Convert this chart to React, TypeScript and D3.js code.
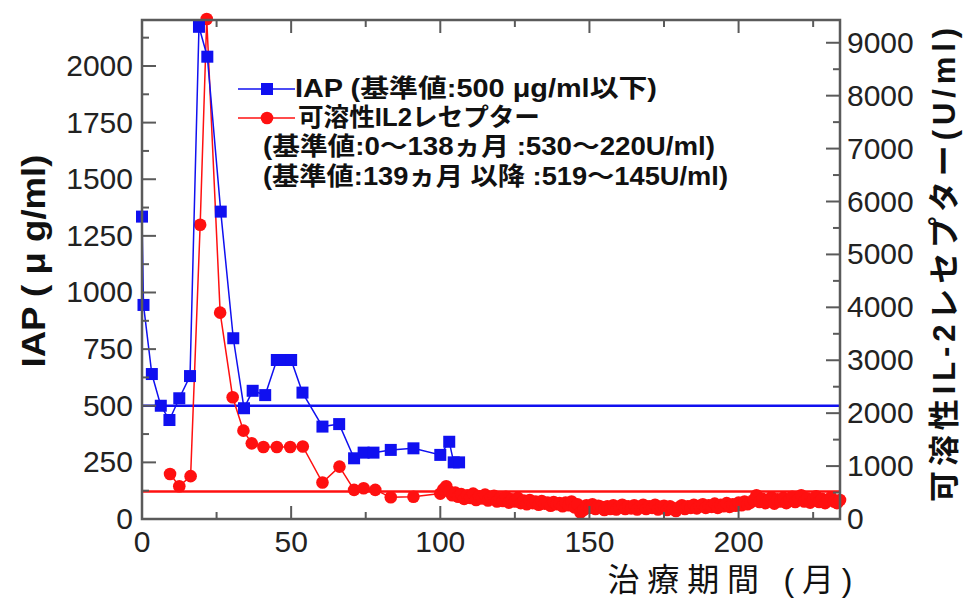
import React from "react";
import * as d3 from "d3";

// ---- data ----
const iapMonths = [0, 0.5, 3.3, 6.3, 9.2, 12.5, 16.1, 19.1, 21.9, 26.4, 30.6, 34.2, 37.1, 41.3, 45.2, 47.5, 50, 53.8, 60.5, 66.1, 71.1, 74.3, 77.6, 83.4, 91, 100, 103, 104.5, 106.3];
const iapValues = [1335, 945, 640, 500, 437, 533, 631, 2173, 2041, 1357, 798, 489, 566, 547, 702, 702, 702, 558, 408, 419, 268, 293, 293, 305, 312, 283, 341, 250, 250];

const sil2rEarlyMonths = [9.4, 12.5, 16.3, 19.5, 21.7, 26.2, 30.4, 34, 36.8, 40.7, 45.2, 49.7, 53.9, 60.5, 66.2, 71.1, 74.3, 78.2, 83.4, 91];
const sil2rEarlyValues = [850, 620, 810, 5560, 9450, 3900, 2300, 1670, 1430, 1360, 1360, 1360, 1370, 690, 990, 550, 580, 550, 410, 420];

// monthly measurements, month 100 .. 234
const sil2rLateStart = 100;
const sil2rLateValues = [
  480, 560, 620, 520, 450, 500, 420, 470, 380, 450,
  400, 480, 360, 430, 390, 460, 350, 410, 440, 330,
  390, 340, 420, 310, 370, 330, 400, 300, 350, 280,
  360, 300, 330, 270, 340, 290, 310, 250, 320, 280,
  300, 240, 310, 260, 330, 220, 280, 120, 170, 260,
  210, 280, 190, 250, 230, 170, 240, 190, 260, 180,
  230, 270, 190, 240, 200, 260, 180, 230, 270, 190,
  240, 210, 270, 180, 230, 250, 170, 240, 200, 150,
  220, 260, 190, 240, 210, 270, 200, 250, 280, 210,
  260, 230, 290, 210, 270, 240, 300, 230, 280, 250,
  310, 260, 330, 280, 310, 360, 450, 320, 380, 300,
  350, 410, 290, 370, 330, 400, 300, 360, 420, 320,
  380, 450, 330, 390, 310, 370, 430, 320, 380, 300,
  360, 410, 330, 300, 360,
];

const iapRef = 500;
const sil2rRef = 519;

const xTicks = [0, 50, 100, 150, 200];
const leftTicks = [0, 250, 500, 750, 1000, 1250, 1500, 1750, 2000];
const rightTicks = [0, 1000, 2000, 3000, 4000, 5000, 6000, 7000, 8000, 9000];

const legendLines = [
  "IAP (基準値:500 μg/ml以下)",
  "可溶性IL2レセプター",
  "(基準値:0～138ヵ月 :530～220U/ml)",
  "(基準値:139ヵ月 以降 :519～145U/ml)",
];
const leftTitle = "IAP ( μ g/ml)";
const rightTitle = "可溶性IL-2レセプター(U/ml)";
const xTitle = "治療期間 (月)";

// ---- layout ----
const W = 970, H = 604;
const L = 142, R = 840, T = 20, B = 519;
const FONT = "'Liberation Sans', Arial, 'Noto Sans CJK JP', sans-serif";
const BLUE = "#1010f0";
const RED = "#ff1010";
const AXIS = "#5a5a5a";

export default function App() {
  const x = d3.scaleLinear().domain([0, 234]).range([L, R]);
  const yL = d3.scaleLinear().domain([0, 2203]).range([B, T]);
  const yR = d3.scaleLinear().domain([0, 9430]).range([B, T]);

  const xMinor = d3.range(25, 234, 50);
  const lMinor = d3.range(125, 2203, 250);
  const rMinor = d3.range(500, 9430, 1000);

  const iapPts: [number, number][] = iapMonths.map((m, i) => [x(m), yL(iapValues[i])]);
  const silMonths = sil2rEarlyMonths.concat(sil2rLateValues.map((_, i) => sil2rLateStart + i));
  const silValues = sil2rEarlyValues.concat(sil2rLateValues);
  const silPts: [number, number][] = silMonths.map((m, i) => [x(m), yR(silValues[i])]);
  const line = d3.line();

  const sq = 12;
  const cr = 6.3;
  return (
    <svg width={W} height={H} style={{ position: "absolute", left: 0, top: 0, background: "#fff" }} fontFamily={FONT}>
      {/* reference lines */}
      <line x1={L} x2={R} y1={yL(iapRef)} y2={yL(iapRef)} stroke={BLUE} strokeWidth={2.5} />
      <line x1={L} x2={R} y1={yR(sil2rRef)} y2={yR(sil2rRef)} stroke={RED} strokeWidth={2.5} />

      {/* sIL2R series */}
      <path d={line(silPts) || ""} fill="none" stroke={RED} strokeWidth={1.5} />
      {silPts.map((p, i) => (
        <circle key={"c" + i} cx={p[0]} cy={p[1]} r={cr} fill={RED} />
      ))}

      {/* IAP series */}
      <path d={line(iapPts) || ""} fill="none" stroke={BLUE} strokeWidth={1.5} />
      {iapPts.map((p, i) => (
        <rect key={"s" + i} x={p[0] - sq / 2} y={p[1] - sq / 2} width={sq} height={sq} fill={BLUE} />
      ))}

      {/* frame */}
      <rect x={L} y={T} width={R - L} height={B - T} fill="none" stroke={AXIS} strokeWidth={2.5} />

      {/* x ticks (bottom & top, inward) */}
      {xTicks.map((t) => (
        <g key={"xt" + t}>
          <line x1={x(t)} x2={x(t)} y1={B} y2={B - 13} stroke={AXIS} strokeWidth={2} />
          <line x1={x(t)} x2={x(t)} y1={T} y2={T + 13} stroke={AXIS} strokeWidth={2} />
          <text x={x(t)} y={552} fontSize={30} textAnchor="middle" fill="#222">{t}</text>
        </g>
      ))}
      {xMinor.map((t) => (
        <g key={"xm" + t}>
          <line x1={x(t)} x2={x(t)} y1={B} y2={B - 7} stroke={AXIS} strokeWidth={2} />
          <line x1={x(t)} x2={x(t)} y1={T} y2={T + 7} stroke={AXIS} strokeWidth={2} />
        </g>
      ))}

      {/* left axis */}
      {leftTicks.map((t) => (
        <g key={"lt" + t}>
          <line x1={L} x2={L + 14} y1={yL(t)} y2={yL(t)} stroke={AXIS} strokeWidth={2} />
          <text x={133} y={yL(t) + 10} fontSize={30} textAnchor="end" fill="#222">{t}</text>
        </g>
      ))}
      {lMinor.map((t) => (
        <line key={"lm" + t} x1={L} x2={L + 7} y1={yL(t)} y2={yL(t)} stroke={AXIS} strokeWidth={2} />
      ))}

      {/* right axis */}
      {rightTicks.map((t) => (
        <g key={"rt" + t}>
          <line x1={R} x2={R - 14} y1={yR(t)} y2={yR(t)} stroke={AXIS} strokeWidth={2} />
          <text x={847} y={yR(t) + 10} fontSize={30} textAnchor="start" fill="#222">{t}</text>
        </g>
      ))}
      {rMinor.map((t) => (
        <line key={"rm" + t} x1={R} x2={R - 7} y1={yR(t)} y2={yR(t)} stroke={AXIS} strokeWidth={2} />
      ))}

      {/* axis titles */}
      <text transform="translate(45,261) rotate(-90)" textAnchor="middle" fontSize={34} fontWeight="bold" fill="#111" textLength={213} lengthAdjust="spacingAndGlyphs">{leftTitle}</text>
      <text transform="translate(955,265) rotate(-90)" textAnchor="middle" fontSize={31} fontWeight="bold" fill="#111" textLength={474} lengthAdjust="spacing">{rightTitle}</text>
      <text x={730} y={591} textAnchor="middle" fontSize={32} fill="#111" textLength={245} lengthAdjust="spacing">{xTitle}</text>

      {/* legend */}
      <line x1={238} x2={295} y1={89} y2={89} stroke={BLUE} strokeWidth={1.5} />
      <rect x={267 - sq / 2} y={89 - sq / 2} width={sq} height={sq} fill={BLUE} />
      <line x1={238} x2={295} y1={118} y2={118} stroke={RED} strokeWidth={1.5} />
      <circle cx={267} cy={118} r={cr} fill={RED} />
      <text x={295} y={97} fontSize={25} fontWeight="bold" fill="#111" textLength={362} lengthAdjust="spacingAndGlyphs">{legendLines[0]}</text>
      <text x={298} y={126} fontSize={25} fontWeight="bold" fill="#111" textLength={242} lengthAdjust="spacingAndGlyphs">{legendLines[1]}</text>
      <text x={263} y={155} fontSize={25} fontWeight="bold" fill="#111" textLength={452} lengthAdjust="spacingAndGlyphs">{legendLines[2]}</text>
      <text x={263} y={185} fontSize={25} fontWeight="bold" fill="#111" textLength={465} lengthAdjust="spacingAndGlyphs">{legendLines[3]}</text>
    </svg>
  );
}
